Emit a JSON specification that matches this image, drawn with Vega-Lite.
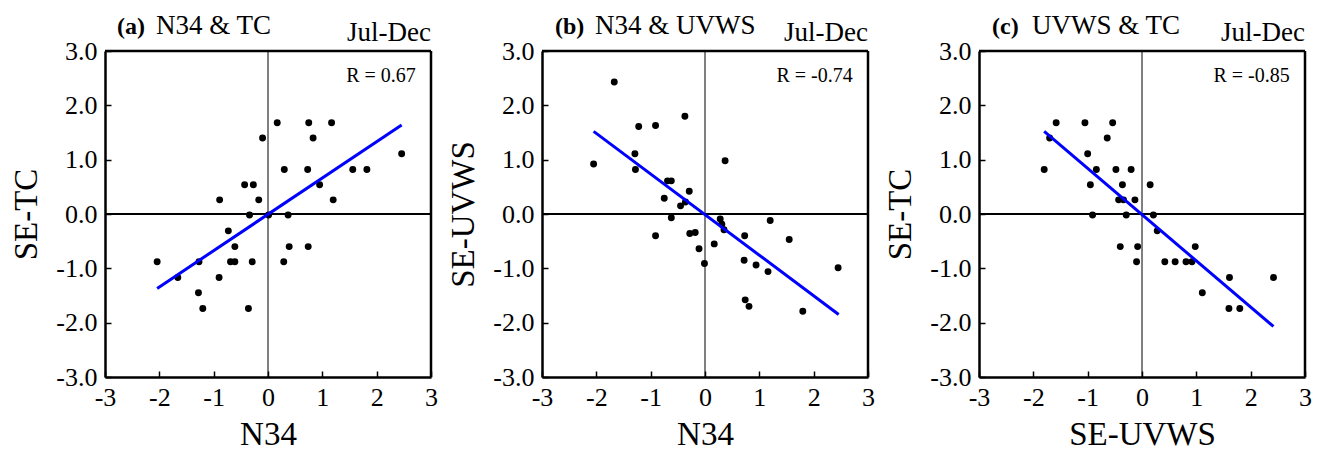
{
  "$schema": "https://vega.github.io/schema/vega-lite/v6.json",
  "background": "white",
  "padding": {"left": 10, "right": 5, "top": 12, "bottom": 0},
  "spacing": 9,
  "config": {
    "font": "Liberation Serif",
    "view": {"stroke": null},
    "axis": {
      "grid": false,
      "domain": true,
      "domainColor": "black",
      "domainWidth": 2.5,
      "tickColor": "black",
      "tickSize": -6,
      "tickWidth": 1.5,
      "labelFlush": false,
      "labelOverlap": false,
      "labelFont": "Liberation Serif",
      "labelFontSize": 26,
      "labelColor": "black",
      "titleFont": "Liberation Serif",
      "titleFontSize": 33,
      "titleFontWeight": "normal",
      "titleColor": "black"
    },
    "axisX": {"labelPadding": 13, "titlePadding": 8, "labelExpr": "datum.value < 0 ? '-' + format(-datum.value, 'd') : format(datum.value, 'd')"},
    "axisY": {"labelPadding": 14, "titlePadding": 12, "labelExpr": "datum.value < 0 ? '-' + format(-datum.value, '.1f') : format(datum.value, '.1f')"}
  },
  "datasets": {
    "one": [{}],
    "a": [
      {"x": 0.17, "y": 1.68}, {"x": 0.75, "y": 1.68}, {"x": 1.17, "y": 1.68},
      {"x": -0.10, "y": 1.40}, {"x": 0.83, "y": 1.40}, {"x": 2.46, "y": 1.11},
      {"x": 0.30, "y": 0.82}, {"x": 0.73, "y": 0.82}, {"x": 1.56, "y": 0.82},
      {"x": 1.82, "y": 0.82}, {"x": -0.43, "y": 0.54}, {"x": -0.27, "y": 0.54},
      {"x": 0.95, "y": 0.54}, {"x": -0.89, "y": 0.26}, {"x": -0.17, "y": 0.26},
      {"x": 1.20, "y": 0.26}, {"x": -0.34, "y": -0.02}, {"x": 0.01, "y": -0.02},
      {"x": 0.37, "y": -0.02}, {"x": -0.73, "y": -0.31}, {"x": -0.61, "y": -0.60},
      {"x": 0.39, "y": -0.60}, {"x": 0.74, "y": -0.60}, {"x": -2.04, "y": -0.88},
      {"x": -1.27, "y": -0.88}, {"x": -0.69, "y": -0.88}, {"x": -0.61, "y": -0.88},
      {"x": -0.29, "y": -0.88}, {"x": 0.29, "y": -0.88}, {"x": -1.66, "y": -1.17},
      {"x": -0.90, "y": -1.17}, {"x": -1.28, "y": -1.45}, {"x": -1.20, "y": -1.74},
      {"x": -0.36, "y": -1.74}
    ],
    "b": [
      {"x": -1.67, "y": 2.43}, {"x": -0.37, "y": 1.80}, {"x": -1.22, "y": 1.61},
      {"x": -0.91, "y": 1.63}, {"x": -1.29, "y": 1.11}, {"x": -2.05, "y": 0.92},
      {"x": -1.28, "y": 0.82}, {"x": 0.37, "y": 0.98}, {"x": -0.69, "y": 0.61},
      {"x": -0.62, "y": 0.61}, {"x": -0.29, "y": 0.42}, {"x": -0.75, "y": 0.29},
      {"x": -0.45, "y": 0.15}, {"x": -0.36, "y": 0.22}, {"x": -0.62, "y": -0.07},
      {"x": 0.28, "y": -0.09}, {"x": 0.31, "y": -0.19}, {"x": 0.35, "y": -0.29},
      {"x": 1.20, "y": -0.12}, {"x": -0.91, "y": -0.40}, {"x": -0.28, "y": -0.36},
      {"x": -0.18, "y": -0.34}, {"x": 0.73, "y": -0.40}, {"x": 1.55, "y": -0.47},
      {"x": 0.17, "y": -0.55}, {"x": -0.11, "y": -0.64}, {"x": 0.72, "y": -0.85},
      {"x": -0.01, "y": -0.91}, {"x": 0.94, "y": -0.94}, {"x": 1.16, "y": -1.06},
      {"x": 2.45, "y": -0.99}, {"x": 0.74, "y": -1.58}, {"x": 0.81, "y": -1.70},
      {"x": 1.80, "y": -1.79}
    ],
    "c": [
      {"x": -1.58, "y": 1.68}, {"x": -1.05, "y": 1.68}, {"x": -0.54, "y": 1.68},
      {"x": -1.70, "y": 1.40}, {"x": -0.64, "y": 1.40}, {"x": -1.00, "y": 1.11},
      {"x": -1.80, "y": 0.82}, {"x": -0.84, "y": 0.82}, {"x": -0.48, "y": 0.82},
      {"x": -0.20, "y": 0.82}, {"x": -0.95, "y": 0.54}, {"x": -0.36, "y": 0.54},
      {"x": 0.15, "y": 0.54}, {"x": -0.43, "y": 0.26}, {"x": -0.34, "y": 0.26},
      {"x": -0.13, "y": 0.26}, {"x": -0.91, "y": -0.02}, {"x": -0.29, "y": -0.02},
      {"x": 0.21, "y": -0.02}, {"x": 0.28, "y": -0.31}, {"x": -0.40, "y": -0.60},
      {"x": -0.08, "y": -0.60}, {"x": 0.98, "y": -0.60}, {"x": -0.10, "y": -0.88},
      {"x": 0.42, "y": -0.88}, {"x": 0.61, "y": -0.88}, {"x": 0.81, "y": -0.88},
      {"x": 0.92, "y": -0.88}, {"x": 1.61, "y": -1.17}, {"x": 2.42, "y": -1.17},
      {"x": 1.11, "y": -1.45}, {"x": 1.60, "y": -1.74}, {"x": 1.80, "y": -1.74}
    ],
    "la": [{"x": -2.04, "y": -1.37}, {"x": 2.46, "y": 1.64}],
    "lb": [{"x": -2.05, "y": 1.52}, {"x": 2.46, "y": -1.85}],
    "lc": [{"x": -1.80, "y": 1.52}, {"x": 2.42, "y": -2.07}]
  },
  "hconcat": [
    {
      "width": 326, "height": 326,
      "layer": [
        {"data": {"name": "a"}, "mark": {"type": "circle", "color": "black", "opacity": 1, "size": 48},
          "encoding": {
            "x": {"field": "x", "type": "quantitative", "scale": {"domain": [-3, 3], "nice": false}, "axis": {"values": [-3, -2, -1, 0, 1, 2, 3], "title": "N34"}},
            "y": {"field": "y", "type": "quantitative", "scale": {"domain": [-3, 3], "nice": false}, "axis": {"values": [-3, -2, -1, 0, 1, 2, 3], "title": "SE-TC"}}
          }},
        {"data": {"name": "one"}, "mark": {"type": "rule", "color": "black", "strokeWidth": 1}, "encoding": {"x": {"datum": 0, "type": "quantitative"}}},
        {"data": {"name": "one"}, "mark": {"type": "rule", "color": "black", "strokeWidth": 2}, "encoding": {"y": {"datum": 0, "type": "quantitative"}}},
        {"data": {"name": "one"}, "mark": {"type": "rule", "color": "black", "strokeWidth": 2.5}, "encoding": {"x": {"datum": 3, "type": "quantitative"}}},
        {"data": {"name": "one"}, "mark": {"type": "rule", "color": "black", "strokeWidth": 2.5}, "encoding": {"y": {"datum": 3, "type": "quantitative"}}},
        {"data": {"name": "la"}, "mark": {"type": "line", "color": "#0000ff", "strokeWidth": 3}, "encoding": {"x": {"field": "x", "type": "quantitative"}, "y": {"field": "y", "type": "quantitative"}}},
        {"data": {"name": "one"}, "mark": {"type": "text", "text": "R = 0.67", "fontSize": 20, "align": "right", "baseline": "alphabetic", "color": "black"}, "encoding": {"x": {"datum": 2.72, "type": "quantitative"}, "y": {"datum": 2.43, "type": "quantitative"}}},
        {"data": {"name": "one"}, "mark": {"type": "text", "text": "Jul-Dec", "fontSize": 27, "align": "right", "baseline": "alphabetic", "dy": -10, "color": "black"}, "encoding": {"x": {"datum": 3, "type": "quantitative"}, "y": {"datum": 3, "type": "quantitative"}}},
        {"data": {"name": "one"}, "mark": {"type": "text", "text": "(a)", "fontSize": 24, "fontWeight": "bold", "align": "left", "baseline": "alphabetic", "dx": 12, "dy": -17, "color": "black"}, "encoding": {"x": {"datum": -3, "type": "quantitative"}, "y": {"datum": 3, "type": "quantitative"}}},
        {"data": {"name": "one"}, "mark": {"type": "text", "text": "N34 & TC", "fontSize": 27, "align": "left", "baseline": "alphabetic", "dx": 51, "dy": -17, "color": "black"}, "encoding": {"x": {"datum": -3, "type": "quantitative"}, "y": {"datum": 3, "type": "quantitative"}}}
      ]
    },
    {
      "width": 326, "height": 326,
      "layer": [
        {"data": {"name": "b"}, "mark": {"type": "circle", "color": "black", "opacity": 1, "size": 48},
          "encoding": {
            "x": {"field": "x", "type": "quantitative", "scale": {"domain": [-3, 3], "nice": false}, "axis": {"values": [-3, -2, -1, 0, 1, 2, 3], "title": "N34"}},
            "y": {"field": "y", "type": "quantitative", "scale": {"domain": [-3, 3], "nice": false}, "axis": {"values": [-3, -2, -1, 0, 1, 2, 3], "title": "SE-UVWS"}}
          }},
        {"data": {"name": "one"}, "mark": {"type": "rule", "color": "black", "strokeWidth": 1}, "encoding": {"x": {"datum": 0, "type": "quantitative"}}},
        {"data": {"name": "one"}, "mark": {"type": "rule", "color": "black", "strokeWidth": 2}, "encoding": {"y": {"datum": 0, "type": "quantitative"}}},
        {"data": {"name": "one"}, "mark": {"type": "rule", "color": "black", "strokeWidth": 2.5}, "encoding": {"x": {"datum": 3, "type": "quantitative"}}},
        {"data": {"name": "one"}, "mark": {"type": "rule", "color": "black", "strokeWidth": 2.5}, "encoding": {"y": {"datum": 3, "type": "quantitative"}}},
        {"data": {"name": "lb"}, "mark": {"type": "line", "color": "#0000ff", "strokeWidth": 3}, "encoding": {"x": {"field": "x", "type": "quantitative"}, "y": {"field": "y", "type": "quantitative"}}},
        {"data": {"name": "one"}, "mark": {"type": "text", "text": "R = -0.74", "fontSize": 20, "align": "right", "baseline": "alphabetic", "color": "black"}, "encoding": {"x": {"datum": 2.72, "type": "quantitative"}, "y": {"datum": 2.43, "type": "quantitative"}}},
        {"data": {"name": "one"}, "mark": {"type": "text", "text": "Jul-Dec", "fontSize": 27, "align": "right", "baseline": "alphabetic", "dy": -10, "color": "black"}, "encoding": {"x": {"datum": 3, "type": "quantitative"}, "y": {"datum": 3, "type": "quantitative"}}},
        {"data": {"name": "one"}, "mark": {"type": "text", "text": "(b)", "fontSize": 24, "fontWeight": "bold", "align": "left", "baseline": "alphabetic", "dx": 13, "dy": -17, "color": "black"}, "encoding": {"x": {"datum": -3, "type": "quantitative"}, "y": {"datum": 3, "type": "quantitative"}}},
        {"data": {"name": "one"}, "mark": {"type": "text", "text": "N34 & UVWS", "fontSize": 27, "align": "left", "baseline": "alphabetic", "dx": 53, "dy": -17, "color": "black"}, "encoding": {"x": {"datum": -3, "type": "quantitative"}, "y": {"datum": 3, "type": "quantitative"}}}
      ]
    },
    {
      "width": 326, "height": 326,
      "layer": [
        {"data": {"name": "c"}, "mark": {"type": "circle", "color": "black", "opacity": 1, "size": 48},
          "encoding": {
            "x": {"field": "x", "type": "quantitative", "scale": {"domain": [-3, 3], "nice": false}, "axis": {"values": [-3, -2, -1, 0, 1, 2, 3], "title": "SE-UVWS"}},
            "y": {"field": "y", "type": "quantitative", "scale": {"domain": [-3, 3], "nice": false}, "axis": {"values": [-3, -2, -1, 0, 1, 2, 3], "title": "SE-TC"}}
          }},
        {"data": {"name": "one"}, "mark": {"type": "rule", "color": "black", "strokeWidth": 1}, "encoding": {"x": {"datum": 0, "type": "quantitative"}}},
        {"data": {"name": "one"}, "mark": {"type": "rule", "color": "black", "strokeWidth": 2}, "encoding": {"y": {"datum": 0, "type": "quantitative"}}},
        {"data": {"name": "one"}, "mark": {"type": "rule", "color": "black", "strokeWidth": 2.5}, "encoding": {"x": {"datum": 3, "type": "quantitative"}}},
        {"data": {"name": "one"}, "mark": {"type": "rule", "color": "black", "strokeWidth": 2.5}, "encoding": {"y": {"datum": 3, "type": "quantitative"}}},
        {"data": {"name": "lc"}, "mark": {"type": "line", "color": "#0000ff", "strokeWidth": 3}, "encoding": {"x": {"field": "x", "type": "quantitative"}, "y": {"field": "y", "type": "quantitative"}}},
        {"data": {"name": "one"}, "mark": {"type": "text", "text": "R = -0.85", "fontSize": 20, "align": "right", "baseline": "alphabetic", "color": "black"}, "encoding": {"x": {"datum": 2.72, "type": "quantitative"}, "y": {"datum": 2.43, "type": "quantitative"}}},
        {"data": {"name": "one"}, "mark": {"type": "text", "text": "Jul-Dec", "fontSize": 27, "align": "right", "baseline": "alphabetic", "dy": -10, "color": "black"}, "encoding": {"x": {"datum": 3, "type": "quantitative"}, "y": {"datum": 3, "type": "quantitative"}}},
        {"data": {"name": "one"}, "mark": {"type": "text", "text": "(c)", "fontSize": 24, "fontWeight": "bold", "align": "left", "baseline": "alphabetic", "dx": 13, "dy": -17, "color": "black"}, "encoding": {"x": {"datum": -3, "type": "quantitative"}, "y": {"datum": 3, "type": "quantitative"}}},
        {"data": {"name": "one"}, "mark": {"type": "text", "text": "UVWS & TC", "fontSize": 27, "align": "left", "baseline": "alphabetic", "dx": 53, "dy": -17, "color": "black"}, "encoding": {"x": {"datum": -3, "type": "quantitative"}, "y": {"datum": 3, "type": "quantitative"}}}
      ]
    }
  ]
}
